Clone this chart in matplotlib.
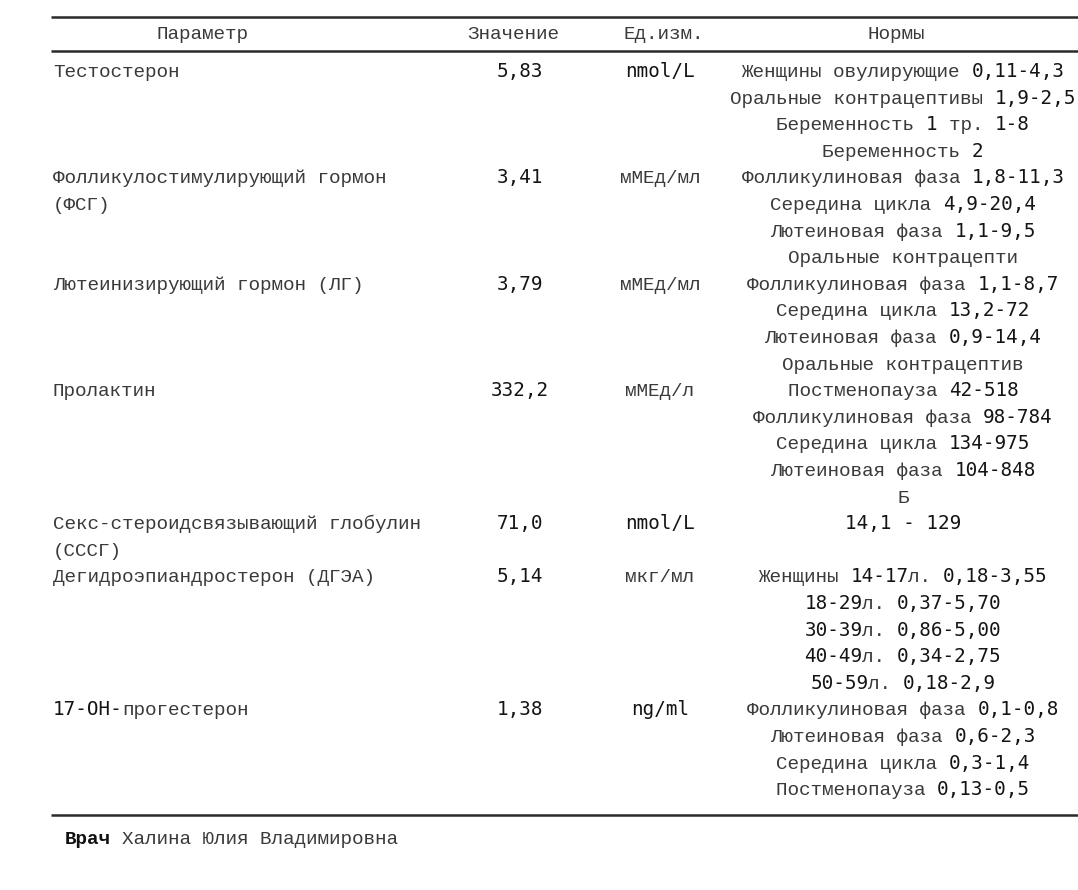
import matplotlib
matplotlib.use("Agg")
import matplotlib.pyplot as plt

# ==================================================
# Table data
# ==================================================
headers = ["Параметр", "Значение", "Ед.изм.", "Нормы"]

params = [
    "Тестостерон",
    "Фолликулостимулирующий гормон\n(ФСГ)",
    "Лютеинизирующий гормон (ЛГ)",
    "Пролактин",
    "Секс-стероидсвязывающий глобулин\n(СССГ)",
    "Дегидроэпиандростерон (ДГЭА)",
    "17-OH-прогестерон",
]

values = ["5,83", "3,41", "3,79", "332,2", "71,0", "5,14", "1,38"]

units = ["nmol/L", "мМЕд/мл", "мМЕд/мл", "мМЕд/л", "nmol/L", "мкг/мл", "ng/ml"]

norms = [
    ["Женщины овулирующие 0,11-4,3",
     "Оральные контрацептивы 1,9-2,5",
     "Беременность 1 тр. 1-8",
     "Беременность 2"],
    ["Фолликулиновая фаза 1,8-11,3",
     "Середина цикла 4,9-20,4",
     "Лютеиновая фаза 1,1-9,5",
     "Оральные контрацепти"],
    ["Фолликулиновая фаза 1,1-8,7",
     "Середина цикла 13,2-72",
     "Лютеиновая фаза 0,9-14,4",
     "Оральные контрацептив"],
    ["Постменопауза 42-518",
     "Фолликулиновая фаза 98-784",
     "Середина цикла 134-975",
     "Лютеиновая фаза 104-848",
     "Б"],
    ["14,1 - 129"],
    ["Женщины 14-17л. 0,18-3,55",
     "18-29л. 0,37-5,70",
     "30-39л. 0,86-5,00",
     "40-49л. 0,34-2,75",
     "50-59л. 0,18-2,9"],
    ["Фолликулиновая фаза 0,1-0,8",
     "Лютеиновая фаза 0,6-2,3",
     "Середина цикла 0,3-1,4",
     "Постменопауза 0,13-0,5"],
]

doctor_label = "Врач"
doctor_name = "Халина Юлия Владимировна"

# ==================================================
# Figure: axes in pixel coordinates
# ==================================================
W, H = 1078, 890
fig = plt.figure(figsize=(W / 100, H / 100), dpi=100)
ax = fig.add_axes([0, 0, 1, 1])
ax.set_xlim(0, W)
ax.set_ylim(H, 0)
ax.axis("off")

FS = 13.9
CYR_FONT = "Liberation Mono"
LAT_FONT = "DejaVu Sans Mono"
COLORS = {CYR_FONT: "#3a3a3a", LAT_FONT: "#141414"}
renderer = fig.canvas.get_renderer()


def advance(family, weight="normal"):
    t1 = ax.text(0, 0, "a", fontfamily=family, fontsize=FS, fontweight=weight)
    t2 = ax.text(0, 0, "a" * 41, fontfamily=family, fontsize=FS, fontweight=weight)
    w1 = t1.get_window_extent(renderer).width
    w2 = t2.get_window_extent(renderer).width
    t1.remove()
    t2.remove()
    return (w2 - w1) / 40


ADV = {CYR_FONT: advance(CYR_FONT), LAT_FONT: advance(LAT_FONT)}


def kind(ch):
    if ch.isascii() and ch.isalnum():
        return LAT_FONT
    if ch.isalpha():
        return CYR_FONT
    return None


def runs(s):
    # split a line into cyrillic / latin+digit pieces, punctuation follows its neighbour
    kinds = [kind(c) for c in s]
    cur = next((k for k in kinds if k), CYR_FONT)
    out = []
    for c, k in zip(s, kinds):
        cur = k or cur
        if out and out[-1][1] == cur:
            out[-1][0] += c
        else:
            out.append([c, cur])
    return out


def draw(s, x, y, ha="left"):
    parts = runs(s)
    total = sum(len(p) * ADV[f] for p, f in parts)
    if ha == "center":
        x -= total / 2
    for p, f in parts:
        ax.text(x, y + 6, p, fontfamily=f, fontsize=FS, color=COLORS[f],
                ha="left", va="baseline")
        x += len(p) * ADV[f]


# ==================================================
# Header and rules
# ==================================================
X_PARAM, X_VAL, X_UNIT, X_NORM = 53, 520, 660, 903
STEP = 26.6

for yl in (17, 51, 815):
    ax.plot([51, W], [yl, yl], color="#2a2a2a", lw=1.8, solid_capstyle="butt")

for h, cx in zip(headers, (203, 513, 664, 896)):
    draw(h, cx, 33, ha="center")

# ==================================================
# Rows
# ==================================================
y = 71
for p, v, u, n in zip(params, values, units, norms):
    plines = p.split("\n")
    for i, line in enumerate(plines):
        draw(line, X_PARAM, y + i * STEP)
    draw(v, X_VAL, y, ha="center")
    draw(u, X_UNIT, y, ha="center")
    for i, line in enumerate(n):
        draw(line, X_NORM, y + i * STEP, ha="center")
    y += max(len(plines), len(n)) * STEP

# ==================================================
# Footer
# ==================================================
ax.text(65, 844, doctor_label, fontfamily=CYR_FONT, fontsize=FS,
        fontweight="bold", color="#111111", ha="left", va="baseline")
bold_adv = advance(CYR_FONT, "bold")
draw(doctor_name, 65 + (len(doctor_label) + 1) * bold_adv, 838)

fig.savefig("out.png", dpi=100, facecolor="white")
